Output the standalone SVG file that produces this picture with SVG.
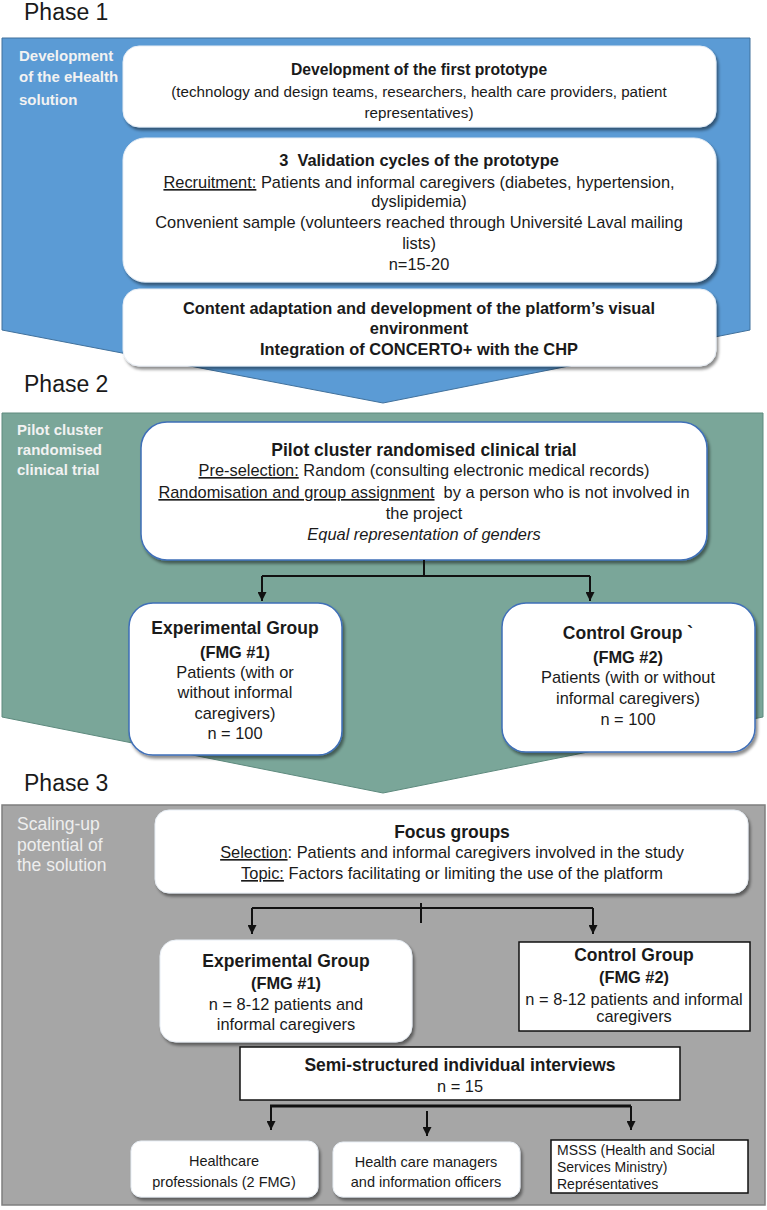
<svg xmlns="http://www.w3.org/2000/svg" width="767" height="1210" viewBox="0 0 767 1210">
<style>
text{font-family:"Liberation Sans",Arial,sans-serif;fill:#1a1a1a;white-space:pre}
.phase{font-size:23px}
.side{font-size:15px;font-weight:bold;fill:#f2f2f2}
.side3{font-size:17.5px;fill:#eeeeee}
.t{font-size:16.4px;text-anchor:middle}
.h{font-size:17.5px;font-weight:bold;text-anchor:middle}
.b{font-weight:bold}
.s{font-size:14.5px;text-anchor:middle}
.u{text-decoration:underline}
.wb{fill:#ffffff;stroke:#e8eef5;stroke-width:1;filter:url(#sh)}
.bb{fill:#ffffff;stroke:#3f6fb8;stroke-width:1.5;filter:url(#sh)}
.kb{fill:#ffffff;stroke:#111111;stroke-width:1.5}
.con{stroke:#111111;stroke-width:2;fill:none}
</style>
<defs>
<filter id="sh" x="-10%" y="-20%" width="125%" height="150%">
<feDropShadow dx="2" dy="3" stdDeviation="1.8" flood-color="#000" flood-opacity="0.45"/>
</filter>
<marker id="ah" markerWidth="10" markerHeight="9" refX="10" refY="5" orient="auto" markerUnits="userSpaceOnUse" viewBox="0 0 10 10">
<path d="M0,0 L10,5 L0,10 z" fill="#111111"/>
</marker>
</defs>

<g id="phase1">
<text class="phase" x="24" y="20">Phase 1</text>
<polygon points="2,38 750,38 750,330 383,403 2,330" fill="#5b9bd5" stroke="#41719c" stroke-width="1"/>
<text class="side" x="19" y="61">Development</text>
<text class="side" x="19" y="82">of the eHealth</text>
<text class="side" x="19" y="105">solution</text>
</g>

<g id="n-prototype">
<rect class="wb" x="123" y="46" width="593" height="81" rx="16"/>
<text class="t b" x="419" y="75" style="font-size:15.7px">Development of the first prototype</text>
<text class="t" x="419" y="97" style="font-size:15.2px">(technology and design teams, researchers, health care providers, patient</text>
<text class="t" x="419" y="118" style="font-size:15.2px">representatives)</text>
</g>

<g id="n-validation">
<rect class="wb" x="123" y="138" width="593" height="144" rx="22"/>
<text class="t b" x="419" y="166">3  Validation cycles of the prototype</text>
<text class="t" x="419" y="188"><tspan class="u">Recruitment:</tspan> Patients and informal caregivers (diabetes, hypertension,</text>
<text class="t" x="419" y="207">dyslipidemia)</text>
<text class="t" x="419" y="228">Convenient sample (volunteers reached through Université Laval mailing</text>
<text class="t" x="419" y="249">lists)</text>
<text class="t" x="419" y="270">n=15-20</text>
</g>

<g id="n-content">
<rect class="wb" x="123" y="289" width="593" height="77" rx="16"/>
<text class="t b" x="419" y="314">Content adaptation and development of the platform’s visual</text>
<text class="t b" x="419" y="334">environment</text>
<text class="t b" x="419" y="355">Integration of CONCERTO+ with the CHP</text>
</g>

<g id="phase2">
<text class="phase" x="24" y="392">Phase 2</text>
<polygon points="2,413 763,413 763,717 383,793 2,717" fill="#7aa699" stroke="#5e8a7e" stroke-width="1"/>
<text class="side" x="17" y="435">Pilot cluster</text>
<text class="side" x="17" y="455">randomised</text>
<text class="side" x="17" y="475">clinical trial</text>
</g>

<g id="n-pilot">
<rect class="bb" x="141" y="422" width="566" height="138" rx="26"/>
<text class="h" x="424" y="456">Pilot cluster randomised clinical trial</text>
<text class="t" x="424" y="476"><tspan class="u">Pre-selection:</tspan> Random (consulting electronic medical records)</text>
<text class="t" x="424" y="498"><tspan class="u">Randomisation and group assignment</tspan>  by a person who is not involved in</text>
<text class="t" x="424" y="519">the project</text>
<text class="t" x="424" y="540" font-style="italic">Equal representation of genders</text>
</g>

<g id="n-exp1">
<rect class="bb" x="129" y="603" width="213" height="152" rx="24"/>
<text class="h" x="235" y="634">Experimental Group</text>
<text class="t b" x="235" y="658">(FMG #1)</text>
<text class="t" x="235" y="678">Patients (with or</text>
<text class="t" x="235" y="698">without informal</text>
<text class="t" x="235" y="719">caregivers)</text>
<text class="t" x="235" y="739">n = 100</text>
</g>

<g id="n-ctl1">
<rect class="bb" x="502" y="603" width="253" height="149" rx="24"/>
<text class="h" x="628" y="639">Control Group `</text>
<text class="t b" x="628" y="663">(FMG #2)</text>
<text class="t" x="628" y="683">Patients (with or without</text>
<text class="t" x="628" y="704">informal caregivers)</text>
<text class="t" x="628" y="725">n = 100</text>
</g>

<g id="phase3">
<text class="phase" x="24" y="791">Phase 3</text>
<rect x="2" y="805" width="763" height="400" fill="#a6a6a6" stroke="#7f7f7f" stroke-width="1.5"/>
<text class="side3" x="17" y="830">Scaling-up</text>
<text class="side3" x="17" y="851">potential of</text>
<text class="side3" x="17" y="871">the solution</text>
</g>

<g id="n-focus">
<rect class="wb" x="155" y="810" width="593" height="83" rx="14"/>
<text class="h" x="452" y="838">Focus groups</text>
<text class="t" x="452" y="858"><tspan class="u">Selection</tspan>: Patients and informal caregivers involved in the study</text>
<text class="t" x="452" y="879"><tspan class="u">Topic:</tspan> Factors facilitating or limiting the use of the platform</text>
</g>

<g id="n-exp3">
<rect class="wb" x="160" y="940" width="252" height="102" rx="16"/>
<text class="h" x="286" y="967">Experimental Group</text>
<text class="t b" x="286" y="989">(FMG #1)</text>
<text class="t" x="286" y="1010">n = 8-12 patients and</text>
<text class="t" x="286" y="1030">informal caregivers</text>
</g>

<g id="n-ctl3">
<rect class="kb" x="519" y="942" width="231" height="89"/>
<text class="h" x="634" y="961">Control Group</text>
<text class="t b" x="634" y="983">(FMG #2)</text>
<text class="t" x="634" y="1005">n = 8-12 patients and informal</text>
<text class="t" x="634" y="1022">caregivers</text>
</g>

<g id="n-interviews">
<rect class="kb" x="240" y="1047" width="440" height="53"/>
<text class="h" x="460" y="1071">Semi-structured individual interviews</text>
<text class="t" x="460" y="1092">n = 15</text>
</g>

<g id="n-hcp">
<rect class="wb" x="131" y="1141" width="187" height="56" rx="10"/>
<text class="s" x="224" y="1166">Healthcare</text>
<text class="s" x="224" y="1187">professionals (2 FMG)</text>
</g>

<g id="n-managers">
<rect class="wb" x="333" y="1142" width="187" height="55" rx="10"/>
<text class="s" x="426" y="1167">Health care managers</text>
<text class="s" x="426" y="1187">and information officers</text>
</g>

<g id="n-msss">
<rect class="kb" x="551" y="1140" width="197" height="53"/>
<text x="557" y="1155" style="font-size:14px">MSSS (Health and Social</text>
<text x="557" y="1172" style="font-size:14px">Services Ministry)</text>
<text x="557" y="1189" style="font-size:14px">Représentatives</text>
</g>

<g id="connectors">
<path class="con" d="M424,560 V576"/>
<path class="con" d="M262,576 H590"/>
<path class="con" d="M262,576 V601" marker-end="url(#ah)"/>
<path class="con" d="M590,576 V601" marker-end="url(#ah)"/>
<path class="con" d="M421,903 V923"/>
<path class="con" d="M252,908 H593"/>
<path class="con" d="M252,908 V934" marker-end="url(#ah)"/>
<path class="con" d="M593,908 V934" marker-end="url(#ah)"/>
<path class="con" d="M270,1106 H631" style="stroke-width:3"/>
<path class="con" d="M271,1106 V1130" marker-end="url(#ah)"/>
<path class="con" d="M427,1111 V1136" marker-end="url(#ah)"/>
<path class="con" d="M631,1106 V1130" marker-end="url(#ah)"/>
</g>
</svg>
